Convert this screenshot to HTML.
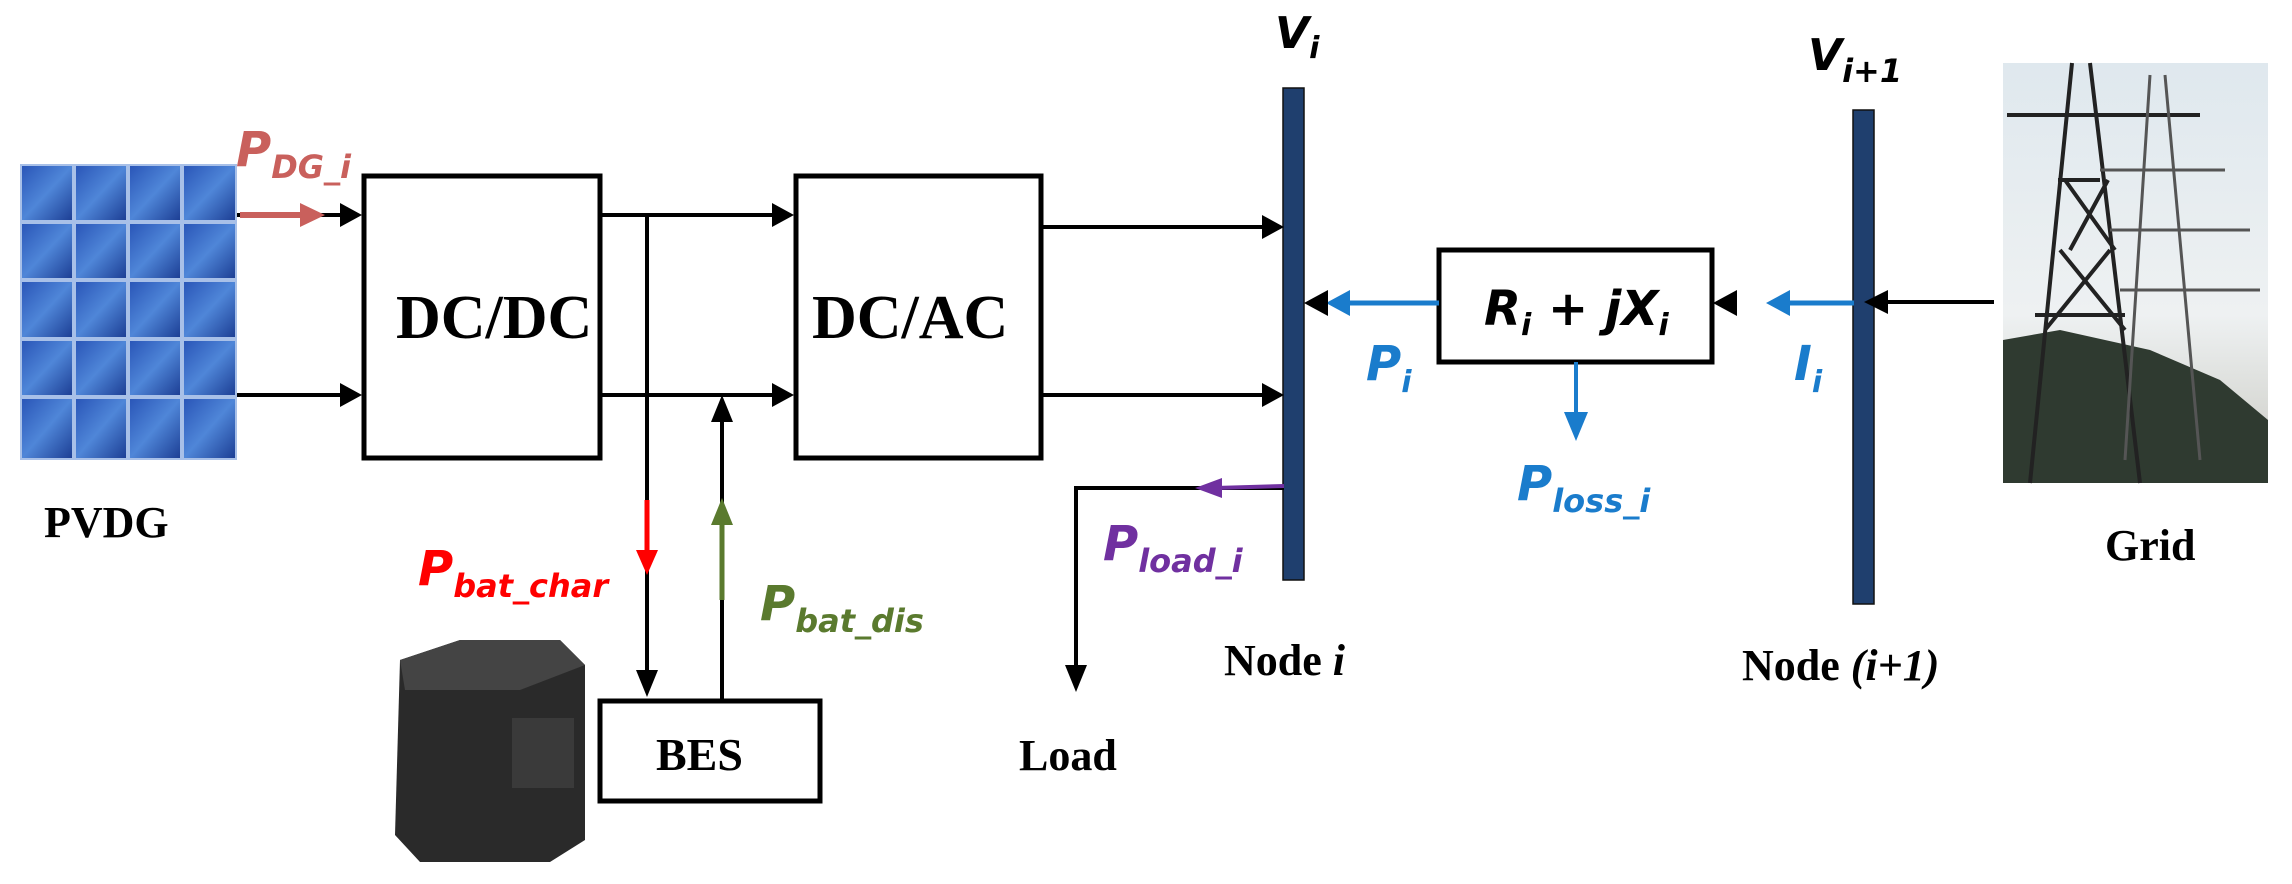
<!DOCTYPE html>
<html><head><meta charset="utf-8"><style>
html,body{margin:0;padding:0;background:#fff;}
svg{display:block;}
.t{font-family:"Liberation Serif",serif;font-weight:bold;fill:#000;}
.m{font-family:"DejaVu Sans","Liberation Sans",sans-serif;font-weight:bold;font-style:italic;}
</style></head><body>
<svg width="2292" height="884" viewBox="0 0 2292 884" xmlns="http://www.w3.org/2000/svg">
<defs>
<linearGradient id="pv" x1="0" y1="0" x2="1" y2="1">
<stop offset="0" stop-color="#2a56b8"/><stop offset="0.5" stop-color="#4f86d8"/><stop offset="1" stop-color="#1d3f95"/>
</linearGradient>
<linearGradient id="sky" x1="0" y1="0" x2="0" y2="1">
<stop offset="0" stop-color="#dfe8ee"/><stop offset="0.6" stop-color="#eef1f2"/><stop offset="1" stop-color="#c8c8c0"/>
</linearGradient>
</defs>
<!-- solar panel -->
<rect x="20" y="164" width="217" height="296" fill="#a8c0e8"/>
<g fill="url(#pv)">
<rect x="22" y="166" width="50" height="54"/><rect x="76" y="166" width="50" height="54"/><rect x="130" y="166" width="50" height="54"/><rect x="184" y="166" width="51" height="54"/>
<rect x="22" y="224" width="50" height="54"/><rect x="76" y="224" width="50" height="54"/><rect x="130" y="224" width="50" height="54"/><rect x="184" y="224" width="51" height="54"/>
<rect x="22" y="282" width="50" height="55"/><rect x="76" y="282" width="50" height="55"/><rect x="130" y="282" width="50" height="55"/><rect x="184" y="282" width="51" height="55"/>
<rect x="22" y="341" width="50" height="54"/><rect x="76" y="341" width="50" height="54"/><rect x="130" y="341" width="50" height="54"/><rect x="184" y="341" width="51" height="54"/>
<rect x="22" y="399" width="50" height="59"/><rect x="76" y="399" width="50" height="59"/><rect x="130" y="399" width="50" height="59"/><rect x="184" y="399" width="51" height="59"/>
</g>
<text class="t" x="44" y="537" font-size="44">PVDG</text>
<!-- PDG arrow -->
<line x1="237" y1="215" x2="345" y2="215" stroke="#000" stroke-width="4"/>
<path d="M240,215H305" stroke="#c9605c" stroke-width="6"/><path d="M300,203L325,215L300,227z" fill="#c9605c"/>
<path d="M340,203L362,215L340,227z" fill="#000"/>
<path d="M340,383L362,395L340,407z" fill="#000"/>
<line x1="237" y1="395" x2="345" y2="395" stroke="#000" stroke-width="4"/>
<text class="m" x="236" y="166" font-size="48" fill="#c9605c">P<tspan font-size="32" dy="12">DG_i</tspan></text>
<!-- DC/DC -->
<rect x="364" y="176" width="236" height="282" fill="none" stroke="#000" stroke-width="5"/>
<text class="t" x="396" y="338" font-size="62">DC/DC</text>
<!-- DC/AC -->
<rect x="796" y="176" width="245" height="282" fill="none" stroke="#000" stroke-width="5"/>
<text class="t" x="812" y="338" font-size="62">DC/AC</text>
<line x1="600" y1="215" x2="780" y2="215" stroke="#000" stroke-width="4"/><path d="M772,203L794,215L772,227z" fill="#000"/>
<line x1="600" y1="395" x2="780" y2="395" stroke="#000" stroke-width="4"/><path d="M772,383L794,395L772,407z" fill="#000"/>
<!-- battery lines -->
<line x1="647" y1="215" x2="647" y2="680" stroke="#000" stroke-width="4"/><path d="M636,670L647,697L658,670z" fill="#000"/>
<line x1="722" y1="699" x2="722" y2="410" stroke="#000" stroke-width="4"/><path d="M711,422L722,395L733,422z" fill="#000"/>
<line x1="647" y1="500" x2="647" y2="560" stroke="#f00" stroke-width="5"/><path d="M636,550L647,575L658,550z" fill="#f00"/>
<line x1="722" y1="600" x2="722" y2="515" stroke="#5a7a2e" stroke-width="5"/><path d="M711,525L722,498L733,525z" fill="#5a7a2e"/>
<text class="m" x="418" y="585" font-size="48" fill="#f00">P<tspan font-size="32" dy="12">bat_char</tspan></text>
<text class="m" x="760" y="620" font-size="48" fill="#5a7a2e">P<tspan font-size="32" dy="12">bat_dis</tspan></text>
<!-- BES -->
<rect x="600" y="701" width="220" height="100" fill="none" stroke="#000" stroke-width="5"/>
<text class="t" x="656" y="770" font-size="46">BES</text>
<!-- battery image -->
<path d="M400,660L460,640L560,640L585,665L585,840L550,862L420,862L395,835z" fill="#2a2a2a"/>
<path d="M400,660L460,640L560,640L585,665L520,690L405,690z" fill="#444"/>
<rect x="512" y="718" width="62" height="70" fill="#3a3a3a"/>
<!-- bus i -->
<rect x="1283" y="88" width="21" height="492" fill="#1f3f6e" stroke="#111" stroke-width="1.5"/>
<text class="m" x="1275" y="48" font-size="44" fill="#000">V<tspan font-size="30" dy="10">i</tspan></text>
<text class="t" x="1224" y="675" font-size="44">Node <tspan font-style="italic">i</tspan></text>
<line x1="1041" y1="227" x2="1270" y2="227" stroke="#000" stroke-width="4"/><path d="M1262,215L1284,227L1262,239z" fill="#000"/>
<line x1="1041" y1="395" x2="1270" y2="395" stroke="#000" stroke-width="4"/><path d="M1262,383L1284,395L1262,407z" fill="#000"/>
<!-- load -->
<path d="M1284,488H1076V675" fill="none" stroke="#000" stroke-width="4"/><path d="M1065,665L1076,692L1087,665z" fill="#000"/>
<path d="M1284,486L1215,488" stroke="#7030a0" stroke-width="4"/><path d="M1222,478L1195,488L1222,498z" fill="#7030a0"/>
<text class="m" x="1103" y="560" font-size="48" fill="#7030a0">P<tspan font-size="32" dy="12">load_i</tspan></text>
<text class="t" x="1019" y="770" font-size="44">Load</text>
<!-- R box -->
<rect x="1439" y="250" width="273" height="112" fill="none" stroke="#000" stroke-width="5"/>
<text class="m" x="1484" y="325" font-size="48" fill="#000">R<tspan font-size="30" dy="10">i</tspan><tspan dy="-10"> + jX</tspan><tspan font-size="30" dy="10">i</tspan></text>
<line x1="1439" y1="303" x2="1340" y2="303" stroke="#1a7ccc" stroke-width="5"/><path d="M1350,290L1326,303L1350,316z" fill="#1a7ccc"/>
<path d="M1328,290L1304,303L1328,316z" fill="#000"/>
<line x1="1576" y1="362" x2="1576" y2="420" stroke="#1a7ccc" stroke-width="4"/><path d="M1564,412L1576,441L1588,412z" fill="#1a7ccc"/>
<text class="m" x="1366" y="380" font-size="48" fill="#1a7ccc">P<tspan font-size="30" dy="12">i</tspan></text>
<text class="m" x="1517" y="500" font-size="48" fill="#1a7ccc">P<tspan font-size="32" dy="12">loss_i</tspan></text>
<!-- bus i+1 -->
<rect x="1853" y="110" width="21" height="494" fill="#1f3f6e" stroke="#111" stroke-width="1.5"/>
<text class="m" x="1808" y="70" font-size="44" fill="#000">V<tspan font-size="32" dy="12">i+1</tspan></text>
<text class="t" x="1742" y="680" font-size="44">Node <tspan font-style="italic">(i+1)</tspan></text>
<line x1="1854" y1="303" x2="1780" y2="303" stroke="#1a7ccc" stroke-width="5"/><path d="M1790,290L1766,303L1790,316z" fill="#1a7ccc"/>
<path d="M1737,290L1713,303L1737,316z" fill="#000"/>
<line x1="1994" y1="302" x2="1880" y2="302" stroke="#000" stroke-width="4"/><path d="M1888,290L1864,302L1888,314z" fill="#000"/>
<text class="m" x="1794" y="380" font-size="48" fill="#1a7ccc">I<tspan font-size="30" dy="12">i</tspan></text>
<!-- grid image -->
<rect x="2003" y="63" width="265" height="420" fill="url(#sky)"/>
<path d="M2003,340L2060,330L2150,350L2220,380L2268,420V483H2003z" fill="#2f3a30"/>
<g stroke="#222" stroke-width="4" fill="none">
<path d="M2030,483L2072,63M2140,483L2090,63M2058,180L2100,180M2007,115H2200M2035,315H2125M2060,250L2125,330M2110,250L2045,330M2065,180L2115,250M2108,180L2070,250"/>
</g>
<g stroke="#555" stroke-width="3" fill="none">
<path d="M2125,460L2150,75M2200,460L2165,75M2100,170H2225M2110,230H2250M2120,290H2260"/>
</g>
<text class="t" x="2105" y="560" font-size="44">Grid</text>
</svg>
</body></html>
